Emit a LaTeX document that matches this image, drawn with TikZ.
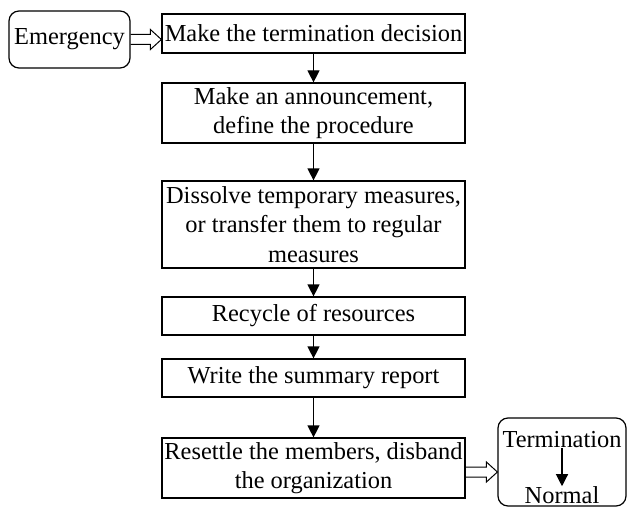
\documentclass[tikz,border=0pt]{standalone}
\usepackage{fontspec}
\setmainfont{Liberation Serif}
\usetikzlibrary{arrows.meta,calc}
\tikzset{
  stepbox/.style={draw, line width=1.2pt, minimum width=303pt,
    align=center, inner sep=1pt, font=\fontsize{24.4}{29.5}\selectfont},
  endbox/.style={draw, line width=1.2pt, rounded corners=10pt},
  flow/.style={line width=1.2pt, -{Triangle[length=12pt, width=12pt]}},
  txt/.style={inner sep=0pt, font=\fontsize{24.4}{29.5}\selectfont}
}
\newcommand{\hollowarrow}[2]{%
  \draw[line width=1pt, line join=miter]
    ($(#1)+(0,-5)$) -- ($(#2)+(-11,-5)$) -- ($(#2)+(-11,-10)$) -- (#2)
    -- ($(#2)+(-11,10)$) -- ($(#2)+(-11,5)$) -- ($(#1)+(0,5)$);}
\begin{document}
\begin{tikzpicture}[x=1pt, y=-1pt]
      \useasboundingbox (0,0) rectangle (628,508);
      \node[endbox, minimum width=121pt, minimum height=57pt, txt] (emerg) at (69.5,39.5) {Emergency};
      \node[stepbox, minimum height=39pt] (b1) at (313.5,33.5) {Make the termination decision};
      \node[stepbox, minimum height=60pt] (b2) at (313.5,113) {Make an announcement,\\ define the procedure};
      \node[stepbox, minimum height=87pt] (b3) at (313.5,224.5) {Dissolve temporary measures,\\ or transfer them to regular\\ measures};
      \node[stepbox, minimum height=38pt] (b4) at (313.5,316) {Recycle of resources};
      \node[stepbox, minimum height=38pt] (b5) at (313.5,378) {Write the summary report};
      \node[stepbox, minimum height=60pt] (b6) at (313.5,468) {Resettle the members, disband\\ the organization};
      \node[endbox, minimum width=128pt, minimum height=88pt] (fin) at (562,462) {};
      \node[txt] (term) at (562,440) {Termination};
      \node[txt] (norm) at (562,495) {Normal};
      \begin{scope}[flow]
        \draw (b1) to (b2);
        \draw (b2) to (b3);
        \draw (b3) to (b4);
        \draw (b4) to (b5);
        \draw (b5) to (b6);
        \draw (term) to (norm);
      \end{scope}
      \coordinate (e1) at (emerg.east -| b1.west);
      \coordinate (e2) at ($(b6.east -| fin.west)+(0,4)$);
      \hollowarrow{emerg.east}{e1}
      \hollowarrow{$(b6.east)+(0,4)$}{e2}
    \end{tikzpicture}
\end{document}
